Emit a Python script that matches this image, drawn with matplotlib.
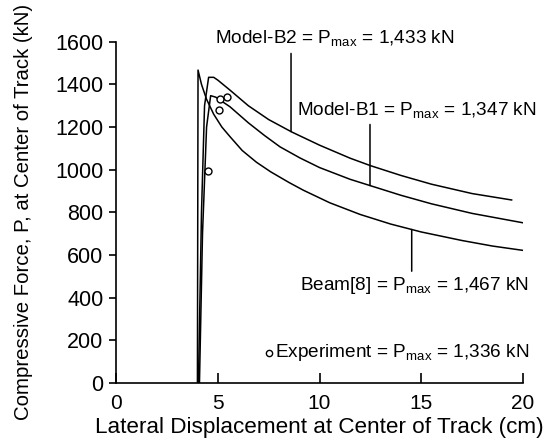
import numpy as np
import matplotlib
matplotlib.use("Agg")
import matplotlib.pyplot as plt

plt.rcParams['font.family'] = ['Liberation Sans', 'DejaVu Sans']
plt.rcParams['mathtext.default'] = 'regular'

# Model-B2 (Pmax = 1,433 kN)
b2_x = [4.05, 4.2, 4.35, 4.55, 4.8, 5.0, 5.6, 6.5, 7.5, 8.63, 10.0, 11.5, 12.5, 14.0, 15.5, 17.5, 19.44]
b2_y = [0, 800, 1300, 1433, 1433, 1420, 1373, 1300, 1235, 1177, 1115, 1054, 1019, 973, 932, 888, 858]

# Model-B1 (Pmax = 1,347 kN)
b1_x = [4.1, 4.25, 4.45, 4.65, 4.9, 5.6, 6.5, 7.3, 8.06, 9.04, 10.0, 11.5, 12.5, 14.0, 15.5, 17.5, 20.0]
b1_y = [0, 700, 1200, 1347, 1340, 1295, 1220, 1160, 1107, 1055, 1010, 955, 925, 880, 840, 795, 751]

# Beam[8] (Pmax = 1,467 kN)
bm_x = [4.0, 4.03, 4.2, 4.45, 4.8, 5.2, 5.6, 6.2, 6.9, 7.6, 8.5, 9.2, 10.5, 12.0, 13.5, 15.0, 17.0, 18.5, 20.2]
bm_y = [0, 1467, 1400, 1330, 1260, 1200, 1155, 1090, 1035, 990, 940, 904, 845, 790, 745, 708, 668, 642, 619]

# Experiment points (Pmax = 1,336 kN)
ex_x = [4.54, 5.06, 5.11, 5.44]
ex_y = [995, 1279, 1330, 1340]

x_ticks = [0, 5, 10, 15, 20]
y_ticks = [0, 200, 400, 600, 800, 1000, 1200, 1400, 1600]

fig = plt.figure(figsize=(5.53, 4.47), dpi=100)
ax = fig.add_axes([0.2098, 0.1432, 0.736, 0.7635])

lw = 1.1
ax.plot(bm_x, bm_y, color='black', lw=lw, solid_joinstyle='round')
ax.plot(b1_x, b1_y, color='black', lw=lw, solid_joinstyle='round')
ax.plot(b2_x, b2_y, color='black', lw=lw, solid_joinstyle='round')
ax.plot(ex_x, ex_y, linestyle='none', marker='o', ms=5, mfc='white', mec='black', mew=1.0)

ax.set_xlim(0, 20)
ax.set_ylim(0, 1600)
ax.set_xticks(x_ticks)
ax.set_yticks(y_ticks)
for s in ['top', 'right']:
    ax.spines[s].set_visible(False)
for s in ['left', 'bottom']:
    ax.spines[s].set_linewidth(1.2)
ax.tick_params(axis='x', direction='in', length=7, width=1.2, labelsize=15, pad=8)
ax.tick_params(axis='y', direction='out', length=5, width=1.2, labelsize=15.5, pad=4)

ax.set_xlabel('Lateral Displacement at Center of Track (cm)', fontsize=16.2, labelpad=3)
ax.set_ylabel('Compressive Force, P, at Center of Track (kN)', fontsize=14.7)
ax.yaxis.set_label_coords(-0.205, 0.5)

fs = 13.7
# Model-B2 label + leader
ax.text(4.85, 1618, r'Model-B2 = P$_{max}$ = 1,433 kN', fontsize=fs, va='center', ha='left', clip_on=False)
xl = 8.6
ax.annotate('', xy=(xl, np.interp(xl, b2_x, b2_y)), xytext=(xl, 1545),
            arrowprops=dict(arrowstyle='-', color='black', lw=1.1, shrinkA=0, shrinkB=0))
# Model-B1 label + leader
ax.text(8.9, 1282, r'Model-B1 = P$_{max}$ = 1,347 kN', fontsize=fs, va='center', ha='left')
xl = 12.48
ax.annotate('', xy=(xl, np.interp(xl, b1_x, b1_y)), xytext=(xl, 1212),
            arrowprops=dict(arrowstyle='-', color='black', lw=1.1, shrinkA=0, shrinkB=0))
# Beam label + leader
ax.text(20.3, 458, r'Beam[8] = P$_{max}$ = 1,467 kN', fontsize=fs, va='center', ha='right', clip_on=False)
xl = 14.53
ax.annotate('', xy=(xl, np.interp(xl, bm_x, bm_y)), xytext=(xl, 524),
            arrowprops=dict(arrowstyle='-', color='black', lw=1.1, shrinkA=0, shrinkB=0))
# Experiment legend text
ax.plot([7.5], [141], linestyle='none', marker='o', ms=4.5, mfc='white', mec='black', mew=1.0)
ax.text(20.3, 141, r'Experiment = P$_{max}$ = 1,336 kN', fontsize=fs, va='center', ha='right', clip_on=False)

fig.savefig('out.png', dpi=100)
